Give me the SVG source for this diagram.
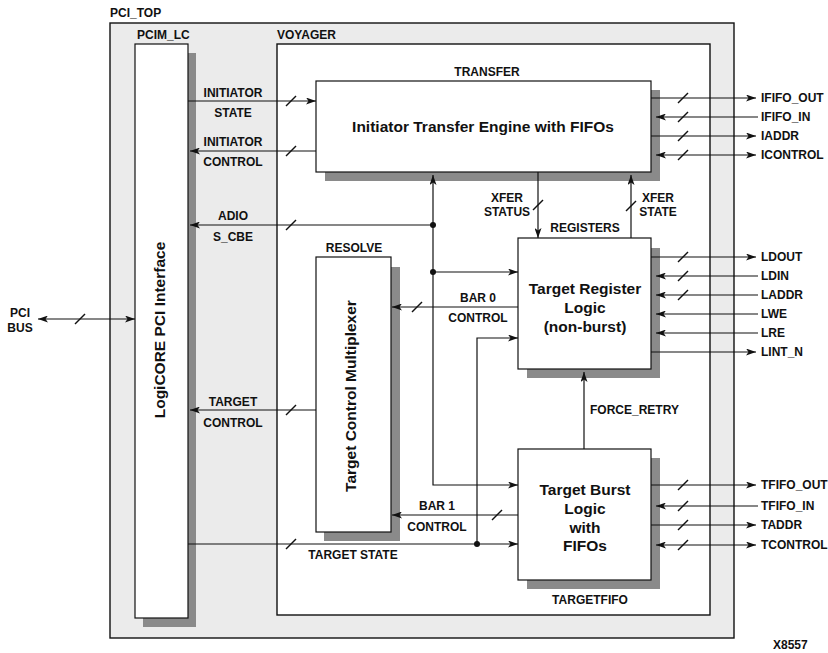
<svg xmlns="http://www.w3.org/2000/svg" width="828" height="653" viewBox="0 0 828 653">
<defs>
<marker id="arr" viewBox="0 0 10 7" refX="10" refY="3.5" markerWidth="10" markerHeight="7" markerUnits="userSpaceOnUse" orient="auto-start-reverse">
<path d="M0,0 L10,3.5 L0,7 L2.5,3.5 z" fill="#111"/>
</marker>
<style>
.lbl{font-family:"Liberation Sans",Arial,sans-serif;font-weight:bold;font-size:12px;fill:#111}
.big{font-family:"Liberation Sans",Arial,sans-serif;font-weight:bold;font-size:15.5px;fill:#111}
.c{text-anchor:middle}
.box{fill:#fff;stroke:#111;stroke-width:1.2}
.sh{fill:#8a8a8a}
.ln{fill:none;stroke:#111;stroke-width:1.2}
.a{marker-end:url(#arr)}
.b{marker-start:url(#arr);marker-end:url(#arr)}
.sl{stroke:#111;stroke-width:1.4}
.dot{fill:#111}
</style>
</defs>

<g id="pci_top">
<rect x="110" y="23" width="624" height="615" fill="#ebebeb" stroke="#111" stroke-width="1.4"/>
<text class="lbl" x="110" y="17">PCI_TOP</text>
</g>

<g id="pcim_lc">
<rect class="sh" x="188" y="53" width="8" height="574"/>
<rect class="sh" x="143" y="618" width="53" height="9"/>
<rect class="box" x="135" y="44" width="53" height="574"/>
<text class="lbl" x="137" y="39">PCIM_LC</text>
<text class="big c" transform="translate(165,330) rotate(-90)">LogiCORE PCI Interface</text>
</g>

<g id="voyager">
<rect x="277" y="44" width="433" height="571" fill="#fff" stroke="#111" stroke-width="1.4"/>
<text class="lbl" x="277" y="39">VOYAGER</text>
</g>

<g id="transfer">
<rect class="sh" x="651" y="90" width="9" height="91"/>
<rect class="sh" x="325" y="172" width="335" height="9"/>
<rect class="box" x="316" y="81" width="335" height="91"/>
<text class="lbl c" x="487" y="76">TRANSFER</text>
<text class="big c" x="483" y="132">Initiator Transfer Engine with FIFOs</text>
</g>

<g id="resolve">
<rect class="sh" x="391" y="267" width="9" height="274"/>
<rect class="sh" x="324" y="532" width="76" height="9"/>
<rect class="box" x="316" y="257" width="75" height="275"/>
<text class="lbl c" x="354" y="252">RESOLVE</text>
<text class="big c" transform="translate(356,396) rotate(-90)">Target Control Multiplexer</text>
</g>

<g id="registers">
<rect class="sh" x="651" y="248" width="9" height="130"/>
<rect class="sh" x="527" y="369" width="133" height="9"/>
<rect class="box" x="518" y="238" width="133" height="131"/>
<text class="lbl c" x="585" y="232">REGISTERS</text>
<text class="big c" x="585" y="294">Target Register</text>
<text class="big c" x="585" y="313">Logic</text>
<text class="big c" x="585" y="332">(non-burst)</text>
</g>

<g id="targetfifo">
<rect class="sh" x="651" y="458" width="9" height="131"/>
<rect class="sh" x="527" y="580" width="133" height="9"/>
<rect class="box" x="518" y="449" width="133" height="131"/>
<text class="lbl c" x="590" y="604">TARGETFIFO</text>
<text class="big c" x="585" y="495">Target Burst</text>
<text class="big c" x="585" y="514">Logic</text>
<text class="big c" x="585" y="533">with</text>
<text class="big c" x="585" y="551">FIFOs</text>
</g>

<g id="connectors">
<line class="ln b" x1="38" y1="319" x2="135" y2="319"/>
<line class="sl" x1="75" y1="324" x2="85" y2="314"/>
<line class="ln a" x1="188" y1="101" x2="316" y2="101"/>
<line class="sl" x1="286" y1="106" x2="296" y2="96"/>
<line class="ln a" x1="316" y1="151" x2="190" y2="151"/>
<line class="sl" x1="286" y1="156" x2="296" y2="146"/>
<line class="ln a" x1="433" y1="225" x2="190" y2="225"/>
<line class="sl" x1="286" y1="230" x2="296" y2="220"/>
<line class="ln a" x1="316" y1="410" x2="190" y2="410"/>
<line class="sl" x1="286" y1="415" x2="296" y2="405"/>
<line class="ln a" x1="188" y1="544" x2="518" y2="544"/>
<line class="sl" x1="286" y1="549" x2="296" y2="539"/>
<path class="ln b" d="M433,175 V485 H518"/>
<line class="ln a" x1="433" y1="272" x2="518" y2="272"/>
<circle class="dot" cx="433" cy="225" r="3"/>
<circle class="dot" cx="433" cy="272" r="3"/>
<path class="ln a" d="M477,544 V338 H518"/>
<circle class="dot" cx="477" cy="544" r="3"/>
<line class="ln a" x1="518" y1="307" x2="392" y2="307"/>
<line class="sl" x1="412" y1="312" x2="422" y2="302"/>
<line class="ln a" x1="518" y1="515" x2="392" y2="515"/>
<line class="sl" x1="492" y1="520" x2="502" y2="510"/>
<line class="ln a" x1="538" y1="172" x2="538" y2="238"/>
<line class="sl" x1="533" y1="210" x2="543" y2="200"/>
<line class="ln a" x1="631" y1="238" x2="631" y2="175"/>
<line class="sl" x1="626" y1="211" x2="636" y2="201"/>
<line class="ln a" x1="584" y1="449" x2="584" y2="372"/>
<line class="ln a" x1="651" y1="98" x2="756" y2="98"/>
<line class="sl" x1="678" y1="103" x2="688" y2="93"/>
<line class="ln a" x1="758" y1="117" x2="656" y2="117"/>
<line class="sl" x1="678" y1="122" x2="688" y2="112"/>
<line class="ln a" x1="651" y1="136" x2="756" y2="136"/>
<line class="sl" x1="678" y1="141" x2="688" y2="131"/>
<line class="ln b" x1="656" y1="155" x2="756" y2="155"/>
<line class="sl" x1="678" y1="160" x2="688" y2="150"/>
<line class="ln a" x1="651" y1="257" x2="756" y2="257"/>
<line class="sl" x1="678" y1="262" x2="688" y2="252"/>
<line class="ln a" x1="758" y1="276" x2="656" y2="276"/>
<line class="sl" x1="678" y1="281" x2="688" y2="271"/>
<line class="ln a" x1="758" y1="295" x2="656" y2="295"/>
<line class="sl" x1="678" y1="300" x2="688" y2="290"/>
<line class="ln a" x1="758" y1="314" x2="656" y2="314"/>
<line class="ln a" x1="758" y1="333" x2="656" y2="333"/>
<line class="ln a" x1="651" y1="352" x2="756" y2="352"/>
<line class="ln a" x1="651" y1="485" x2="756" y2="485"/>
<line class="sl" x1="678" y1="490" x2="688" y2="480"/>
<line class="ln a" x1="758" y1="506" x2="656" y2="506"/>
<line class="sl" x1="678" y1="511" x2="688" y2="501"/>
<line class="ln a" x1="651" y1="525" x2="756" y2="525"/>
<line class="sl" x1="678" y1="530" x2="688" y2="520"/>
<line class="ln b" x1="656" y1="545" x2="756" y2="545"/>
<line class="sl" x1="678" y1="550" x2="688" y2="540"/>
</g>

<g id="labels">
<text class="lbl c" x="20" y="317">PCI</text>
<text class="lbl c" x="20" y="332">BUS</text>
<text class="lbl c" x="233" y="97">INITIATOR</text>
<text class="lbl c" x="233" y="117">STATE</text>
<text class="lbl c" x="233" y="146">INITIATOR</text>
<text class="lbl c" x="233" y="166">CONTROL</text>
<text class="lbl c" x="233" y="220">ADIO</text>
<text class="lbl c" x="233" y="241">S_CBE</text>
<text class="lbl c" x="233" y="406">TARGET</text>
<text class="lbl c" x="233" y="427">CONTROL</text>
<text class="lbl c" x="353" y="559">TARGET STATE</text>
<text class="lbl c" x="478" y="302">BAR 0</text>
<text class="lbl c" x="478" y="322">CONTROL</text>
<text class="lbl c" x="437" y="510">BAR 1</text>
<text class="lbl c" x="437" y="531">CONTROL</text>
<text class="lbl c" x="507" y="202">XFER</text>
<text class="lbl c" x="507" y="216">STATUS</text>
<text class="lbl c" x="658" y="202">XFER</text>
<text class="lbl c" x="658" y="216">STATE</text>
<text class="lbl" x="590" y="414">FORCE_RETRY</text>
<text class="lbl" x="761" y="102">IFIFO_OUT</text>
<text class="lbl" x="761" y="121">IFIFO_IN</text>
<text class="lbl" x="761" y="140">IADDR</text>
<text class="lbl" x="761" y="159">ICONTROL</text>
<text class="lbl" x="761" y="261">LDOUT</text>
<text class="lbl" x="761" y="280">LDIN</text>
<text class="lbl" x="761" y="299">LADDR</text>
<text class="lbl" x="761" y="318">LWE</text>
<text class="lbl" x="761" y="337">LRE</text>
<text class="lbl" x="761" y="356">LINT_N</text>
<text class="lbl" x="761" y="489">TFIFO_OUT</text>
<text class="lbl" x="761" y="510">TFIFO_IN</text>
<text class="lbl" x="761" y="529">TADDR</text>
<text class="lbl" x="761" y="549">TCONTROL</text>
<text class="lbl" x="773" y="649">X8557</text>
</g>
</svg>
